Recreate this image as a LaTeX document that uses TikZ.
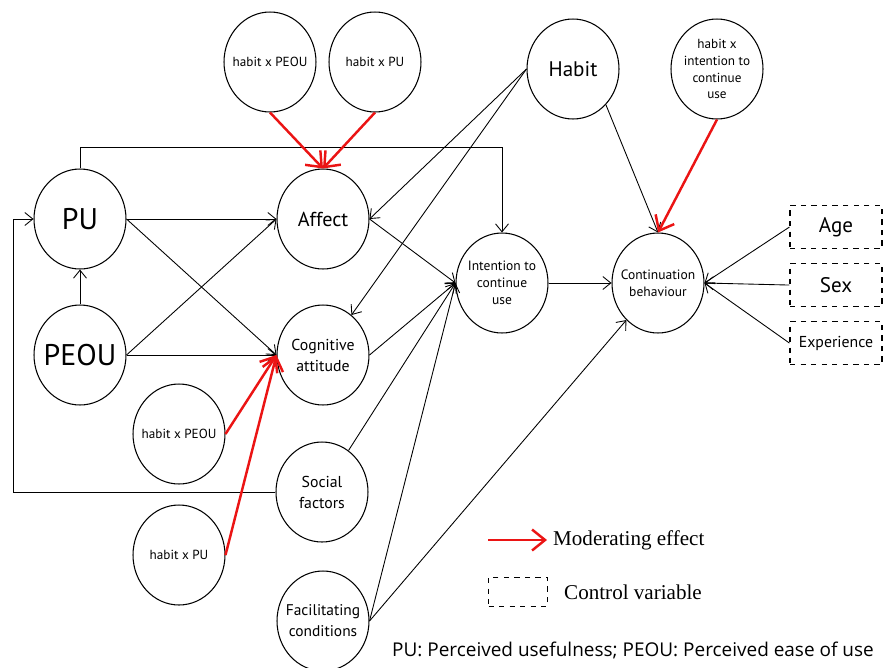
\documentclass[tikz,border=0pt]{standalone}
\usepackage{fontspec}
\setmainfont{PT Sans}
\newfontfamily\legendfont{Liberation Serif}
\newfontfamily\notefont{Open Sans}
\usetikzlibrary{positioning, arrows.meta, calc, shapes.geometric}
\definecolor{modred}{RGB}{235,20,20}

\begin{document}
\begin{tikzpicture}[
  x=0.02cm, y=-0.02cm,
  var/.style={draw, ellipse, line width=0.6pt, minimum width=1.84cm, minimum height=2cm,
              inner sep=-6pt, align=center, font=\fontsize{9}{12}\selectfont},
  small/.style={font=\fontsize{7.5}{9.6}\selectfont},
  ctrl/.style={draw, dashed, line width=0.6pt, minimum width=1.84cm, minimum height=0.86cm},
  arrow/.style={-{Straight Barb[length=1.6mm, width=2.6mm]}, line width=0.5pt},
  mod/.style={-{Straight Barb[length=2.6mm, width=4.2mm]}, modred, line width=1.4pt}
]
  \useasboundingbox (0,0) rectangle (883,667);
  % moderators on top
  \node[var, small] (hxpeou) at (270,62) {habit x PEOU};
  \node[var, small] (hxpu) at (375,62) {habit x PU};
  \node[var, font=\fontsize{12}{14}\selectfont] (habit) at (573,69) {Habit};
  \node[var, small] (hxint) at (717,69) {habit x\\intention to\\continue\\use};
  % main constructs
  \node[var, font=\fontsize{17}{19}\selectfont] (pu) at (80,219) {PU};
  \node[var, font=\fontsize{17}{19}\selectfont] (peou) at (80,355) {PEOU};
  \node[var, font=\fontsize{11.5}{14}\selectfont] (affect) at (323,219) {Affect};
  \node[var] (cog) at (323,355) {Cognitive\\attitude};
  \node[var] (soc) at (322,492) {Social\\factors};
  \node[var, font=\fontsize{8.8}{12}\selectfont] (fac) at (323,621) {Facilitating\\conditions};
  \node[var, font=\fontsize{7.7}{9.6}\selectfont] (int) at (502,283) {Intention to\\continue\\use};
  \node[var, font=\fontsize{7.7}{9.6}\selectfont] (cont) at (658,283) {Continuation\\behaviour};
  \node[var, small] (hxpeou2) at (179,434) {habit x PEOU};
  \node[var, small] (hxpu2) at (179,555) {habit x PU};
  % control variables
  \node[ctrl, font=\fontsize{12}{14}\selectfont] (age) at (836,227) {Age};
  \node[ctrl, below=0.28cm of age, font=\fontsize{12}{14}\selectfont] (sex) {Sex};
  \node[ctrl, below=0.28cm of sex, font=\fontsize{9}{11}\selectfont] (exp) {Experience};

  \draw[arrow] (peou) -- (pu);
  \draw[arrow] (pu) -- (affect);
  \draw[arrow] (pu.east) -- (cog.west);
  \draw[arrow] (peou.east) -- (affect.west);
  \draw[arrow] (peou) -- (cog);
  \draw[arrow] (pu.north) -- ++(0,-21) -| (int.north);
  \coordinate (fb) at (13,0);
  \draw[arrow] (soc.west) -| (fb |- pu.west) -- (pu.west);
  \draw[arrow] (habit.west) -- (affect.east);
  \draw[arrow] (habit.west) -- (cog);
  \draw[arrow] (affect.east) -- (int.west);
  \draw[arrow] (cog.east) -- (int.west);
  \draw[arrow] (soc) -- (int.west);
  \draw[arrow] (fac.east) -- (int.west);
  \draw[arrow] (fac.east) -- (cont);
  \draw[arrow] (int) -- (cont);
  \draw[arrow] (habit.south east) -- (cont.north);
  \draw[arrow] (age.west) -- (cont.east);
  \draw[arrow] (sex.west) -- (cont.east);
  \draw[arrow] (exp.west) -- (cont.east);
  % moderating effects
  \draw[mod] (hxpeou.south) -- (affect.north);
  \draw[mod] (hxpu.south) -- (affect.north);
  \draw[mod] (hxpeou2.east) -- (cog.west);
  \draw[mod] (hxpu2.east) -- (cog.west);
  \draw[mod] (hxint.south) -- (cont.north);

  % legend
  \node[anchor=west, font=\legendfont\fontsize{12}{14}\selectfont] (modtxt) at (547,540) {Moderating effect};
  \coordinate (modstart) at (488,540);
  \draw[mod] (modstart) -- (modtxt.west);
  \node[ctrl, minimum width=1.18cm, minimum height=0.58cm] (ctrlkey) at (518,592) {};
  \node[right=0.2cm of ctrlkey, font=\legendfont\fontsize{12}{14}\selectfont] (ctrltxt) {Control variable};
  \node[anchor=east, font=\notefont\fontsize{10.8}{12}\selectfont] (note) at (880,650)
    {PU: Perceived usefulness; PEOU: Perceived ease of use};
\end{tikzpicture}
\end{document}
